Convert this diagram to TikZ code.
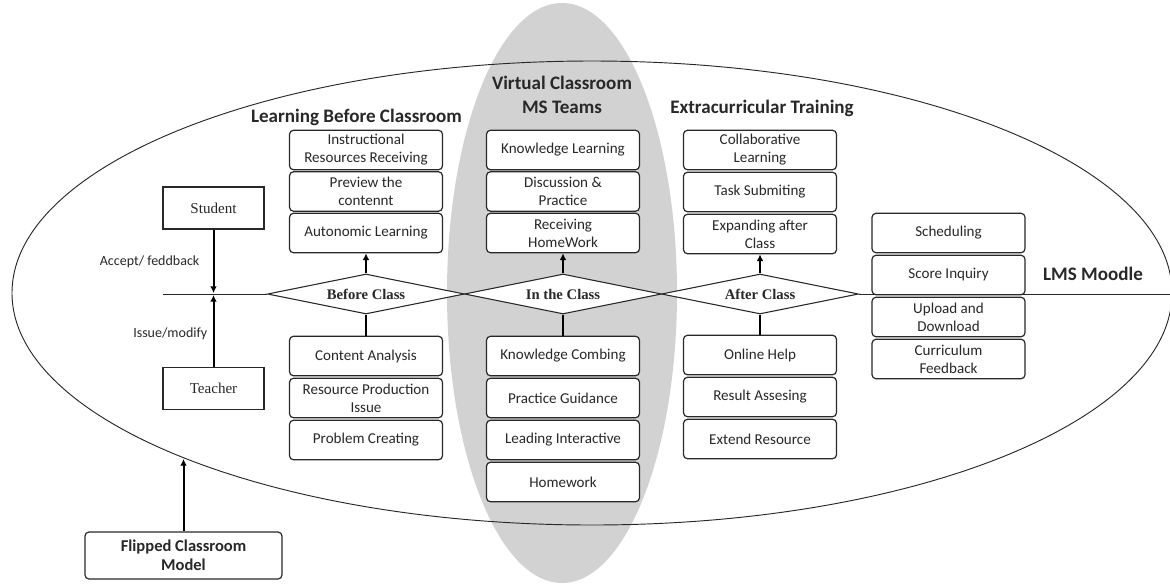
\documentclass[tikz,border=0pt]{standalone}
\usepackage{fontspec}
\setmainfont{Carlito}
\newfontfamily\tnr{Liberation Serif}
\usetikzlibrary{shapes.geometric,arrows.meta}
\definecolor{greyfill}{RGB}{210,210,210}
\definecolor{ink}{RGB}{40,40,40}
\begin{document}
\begin{tikzpicture}[x=0.75pt,y=-0.75pt,
  box/.style={draw=ink,line width=0.9pt,rounded corners=3pt,fill=white,minimum width=114.75pt,minimum height=29.6pt,inner sep=0pt,align=center,font=\fontsize{11.3}{13.5}\selectfont,text=ink},
  lbox/.style={draw=ink,line width=0.8pt,fill=white,minimum width=75.75pt,minimum height=31.5pt,inner sep=0pt,font=\tnr\fontsize{11.3}{13}\selectfont,text=ink},
  dia/.style={diamond,aspect=4.9,draw=ink,line width=0.8pt,fill=white,minimum width=147.75pt,minimum height=30pt,inner sep=0pt,font=\tnr\bfseries\fontsize{11}{13}\selectfont,text=ink},
  ttl/.style={font=\bfseries\fontsize{14.3}{18}\selectfont,align=center,text=ink},
  lab/.style={font=\fontsize{10.5}{12}\selectfont,text=ink},
  arr/.style={line width=1.5pt,draw=black,-{Latex[length=5pt,width=5pt]}},
  conn/.style={line width=1.6pt,draw=black},
  thinl/.style={line width=0.7pt,draw=ink}]

\useasboundingbox (0,0) rectangle (1170,583);
\fill[greyfill] (562,293) ellipse [x radius=115, y radius=290];
\draw[thinl] (592,293) ellipse [x radius=580, y radius=232];

% axis line
\coordinate (hl) at (163,294);
\coordinate (hr) at (1170,294);

% diamonds
\node[dia] (d1) at (366,294) {Before Class};
\node[dia] (d2) at (563,294) {In the Class};
\node[dia] (d3) at (760,294) {After Class};
\draw[thinl] (hl) -- (d1.west);
\draw[thinl] (d3.east) -- (hr);

% column 1
\node[box] (a1) at (366,150) {Instructional\\Resources Receiving};
\node[box] (a2) at (366,191.5) {Preview the\\contennt};
\node[box] (a3) at (366,233) {Autonomic Learning};
\node[box] (a4) at (366,356) {Content Analysis};
\node[box] (a5) at (366,398) {Resource Production\\Issue};
\node[box] (a6) at (366,440) {Problem Creating};

% column 2
\node[box] (b1) at (563,150) {Knowledge Learning};
\node[box] (b2) at (563,191.5) {Discussion \&\\Practice};
\node[box] (b3) at (563,233) {Receiving\\HomeWork};
\node[box] (b4) at (563,356) {Knowledge Combing};
\node[box] (b5) at (563,398) {Practice Guidance};
\node[box] (b6) at (563,440) {Leading Interactive};
\node[box] (b7) at (563,482) {Homework};

% column 3
\node[box] (c1) at (760,150) {Collaborative\\Learning};
\node[box] (c2) at (760,192) {Task Submiting};
\node[box] (c3) at (760,234) {Expanding after\\Class};
\node[box] (c4) at (760,355) {Online Help};
\node[box] (c5) at (760,397) {Result Assesing};
\node[box] (c6) at (760,439) {Extend Resource};

% column 4
\node[box] (e1) at (948.5,233) {Scheduling};
\node[box] (e2) at (948.5,275) {Score Inquiry};
\node[box] (e3) at (948.5,317) {Upload and\\Download};
\node[box] (e4) at (948.5,359) {Curriculum\\Feedback};

% connectors
\draw[arr] (d1.north) -- (a3.south);
\draw[arr] (d2.north) -- (b3.south);
\draw[arr] (d3.north) -- (c3.south);
\draw[conn] (d1.south) -- (a4.north);
\draw[conn] (d2.south) -- (b4.north);
\draw[conn] (d3.south) -- (c4.north);

% titles
\node[ttl] (t1) at (356.5,117) {Learning Before Classroom};
\node[ttl] (t2) at (562,95) {Virtual Classroom\\MS Teams};
\node[ttl] (t3) at (762,108) {Extracurricular Training};
\node[ttl] (t4) at (1093,274) {LMS Moodle};

% student / teacher
\node[lbox] (st) at (213.5,208) {Student};
\node[lbox] (te) at (213.5,388.5) {Teacher};
\coordinate (j1) at (213.5,293);
\coordinate (j2) at (213.5,295);
\draw[arr] (st.south) -- (j1);
\draw[arr] (te.north) -- (j2);
\node[lab,anchor=east] (l1) at (204,262) {Accept/ feddback};
\node[lab,anchor=east] (l2) at (212,334) {Issue/modify};

% flipped classroom
\node[box,minimum width=147.75pt,minimum height=35.25pt,font=\bfseries\fontsize{12.4}{14.5}\selectfont] (fc) at (183.5,555.5) {Flipped Classroom\\Model};
\coordinate (fe) at (183.5,459);
\draw[arr] (fc.north) -- (fe);
\end{tikzpicture}
\end{document}
